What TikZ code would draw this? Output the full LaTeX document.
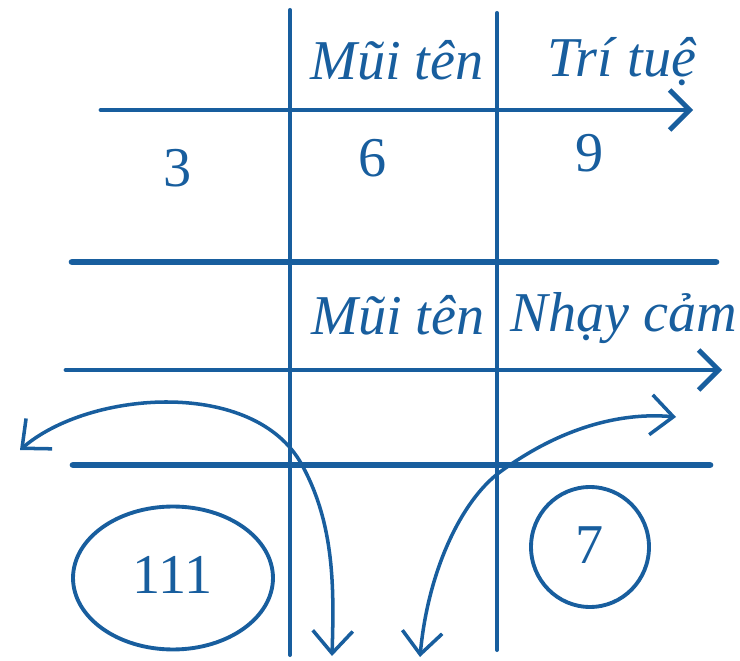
\documentclass[tikz,border=0pt]{standalone}
\usepackage{fontspec}
\setmainfont{Liberation Serif}
\usetikzlibrary{arrows.meta}
\definecolor{inkblue}{RGB}{24,94,158}
\tikzset{
  gridline/.style  = {draw=inkblue, line width=2.3pt, line cap=round},
  heavyline/.style = {draw=inkblue, line width=3.8pt, line cap=round},
  axisarrow/.style = {draw=inkblue, line width=2.8pt, line cap=round,
                      -{Straight Barb[length=4mm,width=8mm]}},
  swingarrow/.style= {draw=inkblue, line width=2pt, line cap=round,
                      {Straight Barb[length=4.5mm,width=8mm]}-{Straight Barb[length=4.5mm,width=8mm]}},
  handtext/.style  = {text=inkblue, font=\fontsize{32}{36}\selectfont\itshape, inner sep=0pt},
  digit/.style     = {text=inkblue, font=\fontsize{32}{36}\selectfont, inner sep=0pt},
  ringline/.style  = {draw=inkblue, line width=2.2pt},
}

\begin{document}
\begin{tikzpicture}[x={(0.02cm,0)},y={(0,-0.02cm)}]
  \useasboundingbox (0,0) rectangle (740,661);

  % ---------------- grid ---------------------------------------------------
  \coordinate (colA top) at (290,10);   \coordinate (colA bot) at (290,655);
  \coordinate (colB top) at (497,13);   \coordinate (colB bot) at (497,650);
  \draw[gridline] (colA top) -- (colA bot);
  \draw[gridline] (colB top) -- (colB bot);

  \coordinate (rowA w) at (101,110);  \coordinate (rowA e) at (693,110);
  \coordinate (rowB w) at (72,262);   \coordinate (rowB e) at (716,262);
  \coordinate (rowC w) at (66,370);   \coordinate (rowC e) at (722,370);
  \coordinate (rowD w) at (73,465);   \coordinate (rowD e) at (710,465);
  \draw[axisarrow] (rowA w) -- (rowA e);
  \draw[heavyline] (rowB w) -- (rowB e);
  \draw[axisarrow] (rowC w) -- (rowC e);
  \draw[heavyline] (rowD w) -- (rowD e);

  % ---------------- labels -------------------------------------------------
  \node[handtext] (arrowtop) at (397,60)  {Mũi tên};
  \node[handtext] (mind)     at (622,62)  {Trí tuệ};
  \node[digit]    (three)    at (178,168) {3};
  \node[digit]    (six)      at (373,158) {6};
  \node[digit]    (nine)     at (590,153) {9};
  \node[handtext] (arrowlow) at (398,315) {Mũi tên};
  \node[handtext] (feel)     at (624,318) {Nhạy cảm};

  % ---------------- circled numbers ----------------------------------------
  \node[digit] (oneoneone) at (173,575) {111};
  \draw[ringline] (173,578) ellipse [x radius=2cm, y radius=1.43cm];
  \node[digit] (seven) at (590,545) {7};
  \draw[ringline] (590,547) ellipse [x radius=1.18cm, y radius=1.2cm];

  % ---------------- swinging arrows ----------------------------------------
  \coordinate (leftend)  at (20,450);
  \coordinate (leftfoot) at (332,656);
  \coordinate (rightend) at (676,417);
  \coordinate (rightfoot) at (420,657);
  \draw[swingarrow] (leftend) .. controls (90,390) and (255,378) .. (302,465)
        .. controls (335,525) and (334,590) .. (leftfoot);
  \draw[swingarrow] (rightfoot) .. controls (428,570) and (462,500) .. (500,472)
        .. controls (560,428) and (620,412) .. (rightend);
\end{tikzpicture}
\end{document}
